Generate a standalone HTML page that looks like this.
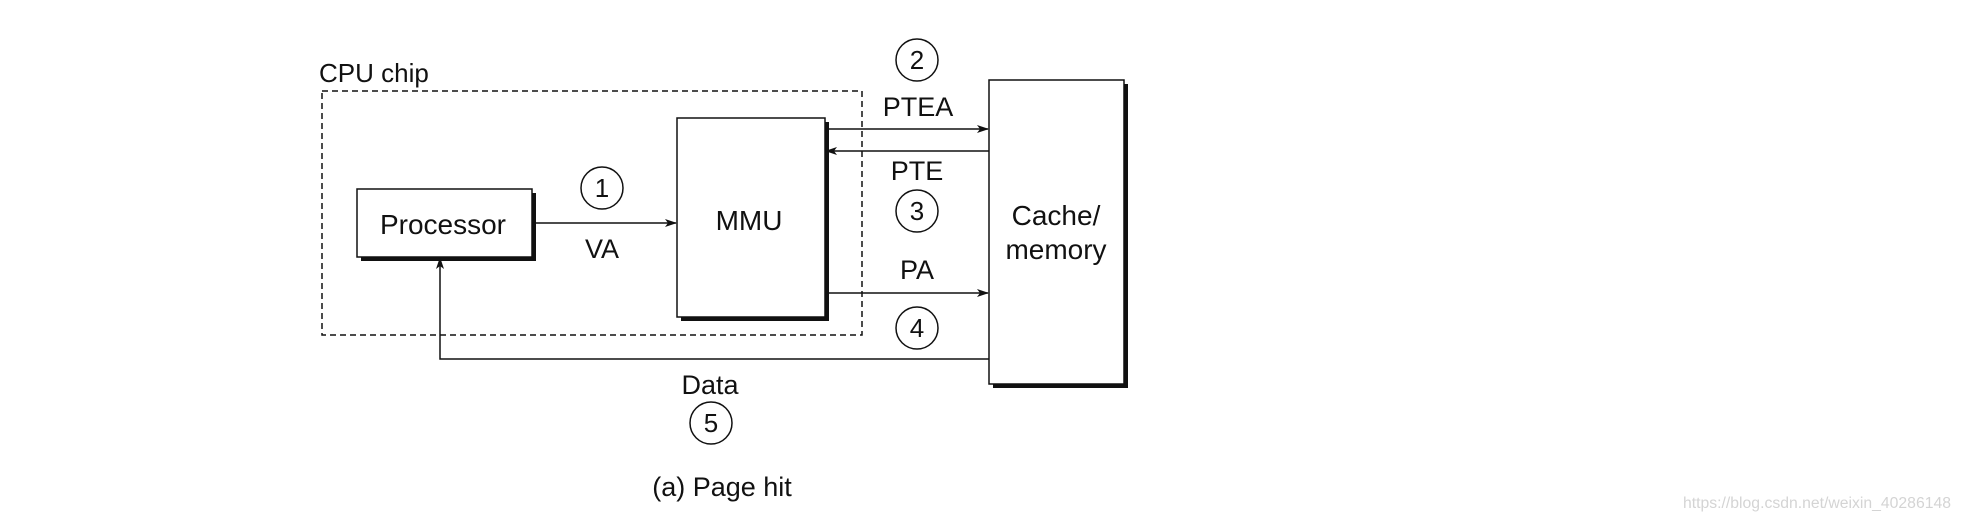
<!DOCTYPE html>
<html><head><meta charset="utf-8"><style>
html,body{margin:0;padding:0;background:#fff;}
svg text{font-family:"Liberation Sans",Arial,sans-serif;fill:#111;}
</style></head><body>
<svg width="1962" height="522" viewBox="0 0 1962 522" xmlns="http://www.w3.org/2000/svg">
<defs>
<marker id="ah" markerWidth="12" markerHeight="8" refX="11" refY="4" orient="auto" markerUnits="userSpaceOnUse">
<path d="M0,0 L12,4 L0,8 L3,4 Z" fill="#111"/>
</marker>
</defs>
<rect width="1962" height="522" fill="#fff"/>
<rect x="322" y="91" width="540" height="244" fill="none" stroke="#111" stroke-width="1.5" stroke-dasharray="6,4"/>
<text x="319" y="82" font-size="26">CPU chip</text>
<rect x="361" y="193" width="175" height="68" fill="#111"/>
<rect x="357" y="189" width="175" height="68" fill="#fff" stroke="#111" stroke-width="1.5"/>
<text x="443" y="234" font-size="28" text-anchor="middle">Processor</text>
<rect x="681" y="122" width="148" height="199" fill="#111"/>
<rect x="677" y="118" width="148" height="199" fill="#fff" stroke="#111" stroke-width="1.5"/>
<text x="749" y="230" font-size="28" text-anchor="middle">MMU</text>
<rect x="993" y="84" width="135" height="304" fill="#111"/>
<rect x="989" y="80" width="135" height="304" fill="#fff" stroke="#111" stroke-width="1.5"/>
<text x="1056" y="225" font-size="28" text-anchor="middle">Cache/</text>
<text x="1056" y="259" font-size="28" text-anchor="middle">memory</text>
<line x1="532" y1="223" x2="676" y2="223" stroke="#111" stroke-width="1.5" marker-end="url(#ah)"/>
<line x1="829" y1="129" x2="988" y2="129" stroke="#111" stroke-width="1.5" marker-end="url(#ah)"/>
<line x1="989" y1="151" x2="826" y2="151" stroke="#111" stroke-width="1.5" marker-end="url(#ah)"/>
<line x1="829" y1="293" x2="988" y2="293" stroke="#111" stroke-width="1.5" marker-end="url(#ah)"/>
<polyline points="989,359 440,359 440,258" fill="none" stroke="#111" stroke-width="1.5" marker-end="url(#ah)"/>
<text x="602" y="258" font-size="27" text-anchor="middle">VA</text>
<text x="918" y="116" font-size="27" text-anchor="middle">PTEA</text>
<text x="917" y="180" font-size="27" text-anchor="middle">PTE</text>
<text x="917" y="279" font-size="27" text-anchor="middle">PA</text>
<text x="710" y="394" font-size="27" text-anchor="middle">Data</text>
<g fill="none" stroke="#111" stroke-width="1.5">
<circle cx="602" cy="188" r="21"/>
<circle cx="917" cy="60" r="21"/>
<circle cx="917" cy="211" r="21"/>
<circle cx="917" cy="328" r="21"/>
<circle cx="711" cy="423" r="21"/>
</g>
<g font-size="26" text-anchor="middle">
<text x="602" y="197">1</text>
<text x="917" y="69">2</text>
<text x="917" y="220">3</text>
<text x="917" y="337">4</text>
<text x="711" y="432">5</text>
</g>
<text x="722" y="496" font-size="27" text-anchor="middle">(a) Page hit</text>
<text x="1683" y="508" font-size="15.5" textLength="268" lengthAdjust="spacingAndGlyphs" style="fill:#d4d4d4">https://blog.csdn.net/weixin_40286148</text>
</svg>
</body></html>
